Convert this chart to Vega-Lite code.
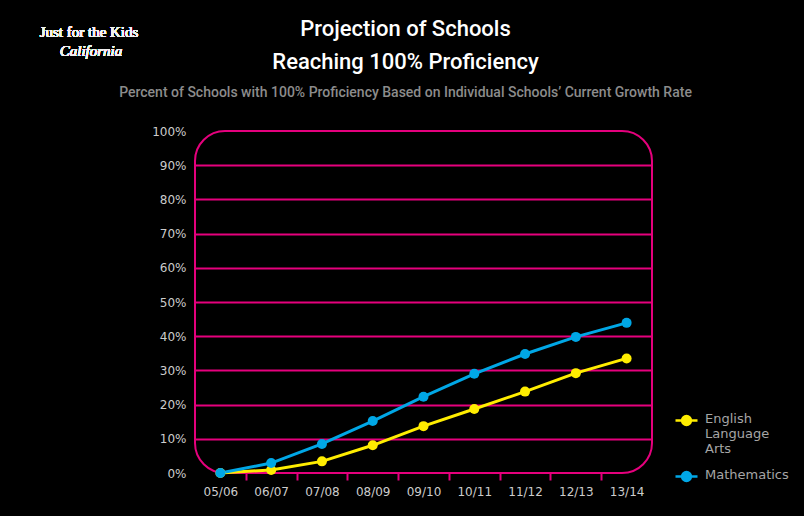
{
  "$schema": "https://vega.github.io/schema/vega-lite/v6.json",
  "autosize": {"type": "none"},
  "width": 457,
  "height": 342,
  "padding": {"left": 195, "top": 131, "right": 152, "bottom": 43},
  "background": "#000000",
  "title": {
    "text": ["Projection of Schools", "Reaching 100% Proficiency"],
    "subtitle": "Percent of Schools with 100% Proficiency Based on Individual Schools\u2019 Current Growth Rate",
    "anchor": "middle",
    "frame": "group",
    "dx": -18,
    "offset": -76,
    "font": "Roboto",
    "fontSize": 22,
    "fontWeight": 500,
    "lineHeight": 33,
    "color": "#ffffff",
    "subtitleFont": "Roboto",
    "subtitleFontSize": 14,
    "subtitleFontWeight": 500,
    "subtitleColor": "#8c8c8c",
    "subtitlePadding": 12
  },
  "config": {
    "view": {"stroke": "#e5007d", "strokeWidth": 2, "cornerRadius": 30},
    "axis": {
      "labelFont": "DejaVu Sans",
      "labelFontSize": 12,
      "labelColor": "#cccccc",
      "domain": false
    },
    "legend": {
      "labelFont": "DejaVu Sans",
      "labelFontSize": 13,
      "labelColor": "#a6a6a6"
    }
  },
  "data": {
    "values": [
      {"year": "05/06", "subject": "English Language Arts", "pct": 0.0},
      {"year": "06/07", "subject": "English Language Arts", "pct": 0.9},
      {"year": "07/08", "subject": "English Language Arts", "pct": 3.4},
      {"year": "08/09", "subject": "English Language Arts", "pct": 8.1},
      {"year": "09/10", "subject": "English Language Arts", "pct": 13.7},
      {"year": "10/11", "subject": "English Language Arts", "pct": 18.7},
      {"year": "11/12", "subject": "English Language Arts", "pct": 23.8},
      {"year": "12/13", "subject": "English Language Arts", "pct": 29.2},
      {"year": "13/14", "subject": "English Language Arts", "pct": 33.5},
      {"year": "05/06", "subject": "Mathematics", "pct": 0.0},
      {"year": "06/07", "subject": "Mathematics", "pct": 2.9},
      {"year": "07/08", "subject": "Mathematics", "pct": 8.5},
      {"year": "08/09", "subject": "Mathematics", "pct": 15.2},
      {"year": "09/10", "subject": "Mathematics", "pct": 22.3},
      {"year": "10/11", "subject": "Mathematics", "pct": 29.0},
      {"year": "11/12", "subject": "Mathematics", "pct": 34.8},
      {"year": "12/13", "subject": "Mathematics", "pct": 39.8},
      {"year": "13/14", "subject": "Mathematics", "pct": 43.9}
    ]
  },
  "layer": [
    {
      "mark": {"type": "line", "strokeWidth": 3, "point": {"filled": true, "size": 100, "opacity": 1}},
      "encoding": {
        "x": {
          "field": "year",
          "type": "ordinal",
          "scale": {"paddingInner": 0, "paddingOuter": 0},
          "axis": {
            "title": null,
            "labelAngle": 0,
            "tickBand": "extent",
            "ticks": true,
            "tickSize": 7,
            "tickWidth": 2,
            "tickColor": "#e5007d",
            "tickOpacity": {"condition": {"test": "datum.extra || datum.value == '13/14'", "value": 0}, "value": 1},
            "labelPadding": 6,
            "grid": false
          }
        },
        "y": {
          "field": "pct",
          "type": "quantitative",
          "scale": {"domain": [0, 100], "nice": false},
          "axis": {
            "title": null,
            "values": [0, 10, 20, 30, 40, 50, 60, 70, 80, 90, 100],
            "labelExpr": "datum.value + '%'",
            "ticks": false,
            "labelPadding": 9,
            "grid": true,
            "gridColor": "#e5007d",
            "gridWidth": 2,
            "gridOpacity": {"condition": {"test": "datum.value == 0 || datum.value == 100", "value": 0}, "value": 1}
          }
        },
        "color": {
          "field": "subject",
          "type": "nominal",
          "scale": {"domain": ["English Language Arts", "Mathematics"], "range": ["#ffed00", "#00a7e6"]},
          "legend": {
            "title": null,
            "orient": "none",
            "legendX": 479,
            "legendY": 277,
            "symbolType": "M-1,0H1M-0.4,0a0.4,0.4 0 1,0 0.8,0a0.4,0.4 0 1,0 -0.8,0Z",
            "symbolSize": 484,
            "symbolStrokeWidth": 2.5,
            "rowPadding": 8,
            "labelOffset": 6,
            "labelExpr": "datum.label == 'English Language Arts' ? ['English', 'Language', 'Arts'] : datum.label",
            "labelBaseline": "top",
            "encode": {
              "symbols": {"update": {"fill": {"scale": "color", "field": "value"}, "stroke": {"scale": "color", "field": "value"}}},
              "labels": {"update": {"dy": {"value": -8}}}
            }
          }
        }
      }
    },
    {
      "mark": {"type": "text", "font": "Liberation Serif", "fontSize": 15, "fontWeight": "normal", "color": "#f2f2f2", "align": "center", "baseline": "middle"},
      "encoding": {
        "text": {"value": "Just for the Kids"},
        "x": {"value": -106},
        "y": {"value": -99}
      }
    },
    {
      "mark": {"type": "text", "font": "Liberation Serif", "fontSize": 15, "fontWeight": "normal", "fontStyle": "italic", "color": "#f2f2f2", "align": "center", "baseline": "middle"},
      "encoding": {
        "text": {"value": "California"},
        "x": {"value": -104},
        "y": {"value": -80}
      }
    }
  ]
}
